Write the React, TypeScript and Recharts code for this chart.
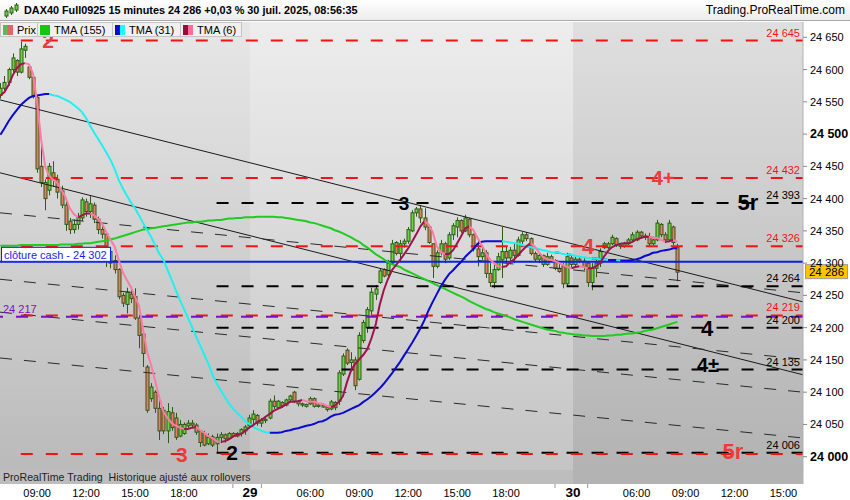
import React from 'react';
import { ComposedChart, Bar, Line, XAxis, YAxis, ReferenceLine, ReferenceArea, ReferenceDot } from 'recharts';

const FONT = '"Liberation Sans", Arial, sans-serif';

// ---- candles (15 min) ----
const OPEN = [
  24560,24571,24580,24600,24614,24596,24630,24604,24588,24557,
  24450,24425,24413,24440,24430,24412,24390,24365,24352,24360,
  24370,24395,24380,24390,24368,24352,24345,24318,24304,24290,
  24250,24236,24252,24248,24215,24190,24139,24090,24100,24075,
  24072,24040,24068,24060,24032,24036,24048,24052,24049,24040,
  24036,24020,24031,24020,24030,24034,24028,24036,24032,24036,
  24040,24048,24058,24064,24052,24056,24060,24086,24076,24084,
  24080,24088,24100,24086,24082,24078,24082,24090,24078,24080,
  24077,24074,24084,24086,24128,24165,24146,24150,24120,24180,
  24200,24226,24252,24270,24290,24282,24300,24332,24315,24330,
  24334,24350,24378,24384,24370,24356,24330,24295,24316,24330,
  24308,24344,24356,24366,24350,24368,24344,24322,24310,24316,
  24284,24270,24290,24305,24318,24308,24320,24312,24334,24344,
  24338,24315,24306,24312,24298,24310,24304,24292,24296,24268,
  24308,24298,24306,24303,24300,24270,24292,24300,24330,24324,
  24330,24338,24328,24326,24330,24336,24336,24348,24342,24340,
  24330,24336,24360,24344,24336,24356,24325,
];
const HIGH = [
  24579,24590,24603,24625,24616,24643,24640,24608,24592,24560,
  24488,24430,24455,24458,24437,24420,24400,24370,24368,24378,
  24402,24400,24404,24394,24372,24360,24350,24322,24312,24292,
  24254,24262,24264,24261,24220,24192,24142,24114,24103,24088,
  24077,24083,24077,24068,24057,24053,24057,24057,24052,24041,
  24040,24036,24034,24036,24038,24036,24038,24038,24038,24044,
  24049,24065,24072,24066,24060,24062,24090,24095,24088,24086,
  24090,24096,24102,24088,24084,24082,24093,24092,24082,24082,
  24080,24088,24086,24134,24160,24168,24162,24155,24193,24212,
  24232,24262,24266,24292,24292,24305,24336,24334,24336,24338,
  24356,24382,24387,24390,24385,24358,24331,24320,24336,24333,
  24348,24362,24371,24368,24375,24370,24346,24336,24328,24320,
  24300,24298,24316,24356,24325,24325,24331,24341,24348,24348,
  24340,24318,24316,24313,24316,24313,24306,24300,24300,24316,
  24313,24310,24310,24308,24302,24300,24305,24323,24333,24333,
  24344,24340,24331,24333,24339,24348,24351,24350,24346,24347,
  24341,24367,24362,24348,24367,24358,24330,
];
const LOW = [
  24555,24565,24575,24595,24590,24594,24618,24585,24555,24440,
  24418,24382,24405,24418,24400,24385,24350,24345,24346,24352,
  24365,24372,24370,24362,24345,24338,24294,24292,24284,24244,
  24232,24222,24238,24212,24168,24139,24068,24085,24068,24026,
  24035,24021,24040,24026,24030,24034,24044,24046,24034,24015,
  24016,24018,24015,24007,24021,24022,24026,24030,24030,24031,
  24034,24044,24050,24048,24046,24052,24058,24074,24074,24076,
  24078,24086,24083,24078,24077,24076,24080,24076,24076,24076,
  24070,24072,24072,24080,24125,24142,24132,24103,24118,24176,
  24192,24220,24243,24268,24278,24280,24298,24312,24302,24324,
  24330,24348,24372,24362,24351,24330,24277,24292,24312,24300,
  24305,24336,24340,24347,24348,24340,24318,24295,24305,24277,
  24263,24261,24288,24277,24300,24298,24300,24310,24326,24334,
  24312,24302,24300,24294,24296,24302,24289,24285,24261,24264,
  24294,24294,24300,24289,24263,24258,24278,24294,24322,24322,
  24328,24325,24322,24324,24328,24333,24334,24340,24336,24325,
  24328,24334,24340,24331,24334,24328,24272,
];
const CLOSE = [
  24571,24580,24600,24618,24596,24632,24636,24588,24558,24446,
  24425,24400,24450,24430,24410,24390,24360,24352,24360,24372,
  24398,24380,24392,24368,24352,24345,24318,24300,24290,24248,
  24238,24255,24245,24215,24188,24160,24072,24108,24075,24040,
  24040,24070,24045,24030,24050,24050,24052,24049,24038,24022,
  24018,24030,24018,24030,24034,24028,24036,24032,24036,24042,
  24046,24060,24066,24052,24056,24058,24086,24078,24086,24079,
  24088,24094,24086,24082,24080,24081,24090,24078,24080,24077,
  24073,24085,24076,24130,24156,24145,24150,24110,24188,24208,
  24228,24255,24260,24288,24280,24300,24330,24315,24330,24334,
  24352,24378,24384,24370,24356,24332,24295,24316,24330,24306,
  24344,24358,24366,24350,24370,24344,24322,24310,24316,24284,
  24270,24290,24310,24318,24308,24320,24312,24336,24344,24338,
  24315,24306,24312,24298,24310,24304,24292,24287,24268,24310,
  24298,24306,24303,24294,24270,24292,24300,24318,24324,24330,
  24340,24328,24326,24330,24336,24344,24348,24342,24340,24330,
  24336,24362,24344,24336,24362,24332,24286,
];

// ---- moving averages ----
const TMA6 = [
  24560,24565,24576,24591,24602,24608,24610,24608,24594,24548,
  24491,24449,24435,24429,24424,24413,24402,24385,24376,24371,
  24374,24377,24377,24374,24368,24360,24348,24336,24326,24305,
  24286,24274,24263,24248,24234,24196,24162,24141,24116,24091,
  24069,24060,24052,24048,24045,24043,24043,24045,24046,24041,
  24037,24032,24029,24024,24023,24024,24027,24031,24034,24035,
  24040,24045,24049,24054,24057,24062,24066,24071,24074,24077,
  24081,24085,24085,24086,24088,24086,24085,24085,24083,24082,
  24079,24077,24079,24085,24094,24116,24134,24144,24151,24158,
  24167,24184,24204,24235,24258,24275,24289,24297,24305,24314,
  24323,24334,24345,24357,24365,24360,24348,24326,24317,24314,
  24314,24320,24331,24342,24354,24357,24351,24339,24328,24316,
  24306,24300,24295,24294,24295,24302,24306,24313,24320,24326,
  24331,24326,24317,24310,24306,24305,24303,24300,24297,24294,
  24292,24294,24295,24294,24292,24292,24295,24300,24310,24319,
  24325,24328,24330,24331,24331,24333,24337,24339,24341,24341,
  24339,24339,24336,24333,24334,24336,24333,
];
const TMA31 = [
  24499,24509,24520,24529,24537,24545,24551,24556,24559,24560,
  24561,24562,24562,24560,24559,24556,24553,24550,24545,24540,
  24534,24525,24513,24502,24492,24482,24471,24460,24446,24429,
  24416,24405,24394,24385,24374,24362,24351,24340,24327,24314,
  24305,24289,24274,24258,24243,24229,24215,24201,24186,24172,
  24158,24144,24127,24114,24103,24093,24083,24075,24068,24062,
  24055,24051,24046,24043,24040,24038,24037,24037,24037,24038,
  24040,24041,24043,24044,24046,24048,24049,24051,24054,24055,
  24058,24062,24065,24066,24068,24071,24074,24077,24080,24085,
  24089,24094,24100,24106,24113,24121,24129,24138,24147,24157,
  24167,24177,24188,24199,24212,24227,24240,24252,24264,24274,
  24283,24289,24296,24302,24310,24316,24322,24330,24333,24334,
  24334,24334,24334,24334,24333,24332,24331,24330,24328,24326,
  24325,24323,24322,24320,24319,24317,24316,24316,24314,24313,
  24313,24311,24310,24309,24308,24307,24307,24306,24306,24305,
  24305,24305,24304,24304,24304,24305,24306,24308,24311,24313,
  24316,24317,24319,24320,24321,24323,24323,
];
const TMA155 = [
  24327,24327,24327,24327,24327,24328,24328,24328,24328,24328,
  24328,24328,24328,24328,24328,24329,24329,24329,24329,24330,
  24330,24331,24331,24332,24333,24334,24335,24337,24338,24340,
  24342,24344,24346,24348,24350,24352,24353,24354,24355,24356,
  24357,24358,24359,24360,24361,24362,24363,24363,24364,24364,
  24365,24366,24366,24367,24367,24368,24369,24369,24370,24370,
  24371,24371,24371,24372,24372,24372,24372,24372,24371,24371,
  24370,24369,24368,24367,24366,24365,24363,24362,24360,24358,
  24356,24354,24351,24349,24346,24343,24340,24336,24333,24328,
  24324,24319,24314,24310,24306,24302,24298,24296,24294,24290,
  24287,24284,24281,24278,24275,24272,24269,24266,24263,24260,
  24257,24254,24251,24248,24245,24241,24238,24235,24232,24229,
  24227,24224,24222,24220,24218,24216,24213,24211,24209,24207,
  24205,24203,24201,24199,24197,24196,24195,24193,24192,24191,
  24190,24189,24189,24188,24188,24187,24187,24187,24187,24188,
  24188,24189,24189,24190,24191,24191,24192,24193,24195,24196,
  24197,24199,24201,24203,24205,24207,24209,
];

// ---- axes ----
const X_MIN = -0.1;
const X_MAX = 196.8;
const Y_MIN = 23957.7;
const Y_MAX = 24673.7;
const X_TICKS = [9, 21, 33, 45, 57, 61.2, 64, 76, 88, 100, 112, 124, 136, 140.4, 144, 156, 168, 180, 192];
const X_LABELS = ['09:00', '12:00', '15:00', '18:00', '', '29', '', '06:00', '09:00', '12:00', '15:00', '18:00', '', '30', '', '06:00', '09:00', '12:00', '15:00'];
const Y_TICKS = [24000, 24050, 24100, 24150, 24200, 24250, 24300, 24350, 24400, 24450, 24500, 24550, 24600, 24650];
const DAY_BOUNDS = [-0.1, 61.2, 140.4, 196.8];

// ---- levels & drawings ----
const LEVELS = [
  { v: 24645, kind: 'red', label: '24 645' },
  { v: 24432, kind: 'red', label: '24 432' },
  { v: 24393, kind: 'black', label: '24 393' },
  { v: 24326, kind: 'red', label: '24 326' },
  { v: 24264, kind: 'black', label: '24 264' },
  { v: 24219, kind: 'red', label: '24 219' },
  { v: 24200, kind: 'black', label: '24 200' },
  { v: 24135, kind: 'black', label: '24 135' },
  { v: 24006, kind: 'black', label: '24 006' },
  { v: 24004, kind: 'red', label: '' },
];
const LEVEL_START: Record<string, number> = { red: 5, black: 53 };
const CASH_CLOSE = 24302;
const PURPLE_LEVEL = 24217;
const LAST_PRICE = 24286;
const TRENDS = [
  { a: 24553, b: 24240, dashed: false },
  { a: 24440, b: 24127, dashed: false },
  { a: 24378, b: 24254, dashed: true },
  { a: 24275, b: 24151, dashed: true },
  { a: 24224, b: 24100, dashed: true },
  { a: 24153, b: 24029, dashed: true },
];
const WAVE_MARKS = [
  { x: 11.7, v: 24645, t: '2', c: 'red', s: 21 },
  { x: 44.5, v: 24004, t: '3', c: 'red', s: 21 },
  { x: 56.8, v: 24006, t: '2', c: 'black', s: 21 },
  { x: 99, v: 24393, t: '3', c: 'black', s: 19 },
  { x: 144.1, v: 24326, t: '4', c: 'red', s: 22 },
  { x: 162.5, v: 24432, t: '4+', c: 'red', s: 20 },
  { x: 183.3, v: 24395, t: '5r', c: 'black', s: 22 },
  { x: 173.3, v: 24200, t: '4', c: 'black', s: 22 },
  { x: 173.5, v: 24142, t: '4±', c: 'black', s: 20 },
  { x: 179.6, v: 24009, t: '5r', c: 'red', s: 22 },
];

const C_RED = '#f21414';
const C_MARK_RED = '#ec3b3b';
const C_WICK = '#2c5a18';
const C_UP = '#6fd23e';
const C_DN = '#ea7c62';

const splitSlope = (arr: number[]) => {
  const up: (number | null)[] = arr.map(() => null);
  const dn: (number | null)[] = arr.map(() => null);
  for (let i = 0; i < arr.length - 1; i++) {
    if (arr[i + 1] >= arr[i]) { up[i] = arr[i]; up[i + 1] = arr[i + 1]; }
    else { dn[i] = arr[i]; dn[i + 1] = arr[i + 1]; }
  }
  return { up, dn };
};
const s6 = splitSlope(TMA6);
const s31 = splitSlope(TMA31);

const DATA = CLOSE.map((c, i) => ({
  i, o: OPEN[i], h: HIGH[i], l: LOW[i], c,
  t6u: s6.up[i], t6d: s6.dn[i], t31u: s31.up[i], t31d: s31.dn[i], t155: TMA155[i],
}));

const fmt = (v: number) => `${Math.floor(v / 1000)} ${String(Math.round(v % 1000)).padStart(3, '0')}`;

const Candle = (p: any) => {
  const { x, y, width, height, payload } = p;
  if (!payload || x == null || y == null) return null;
  const { o, h, l, c } = payload;
  const top = Math.min(y, y + height);
  const hh = Math.abs(height);
  const k = h === l ? 0 : hh / (h - l);
  const yO = top + (h - o) * k;
  const yC = top + (h - c) * k;
  const cx = Math.round(x + width / 2) + 0.5;
  const up = c >= o;
  const bTop = Math.min(yO, yC);
  const bH = Math.max(1, Math.abs(yC - yO));
  return (
    <g>
      <line x1={cx} x2={cx} y1={top} y2={top + hh} stroke={C_WICK} strokeWidth={1} />
      <rect x={cx - 1.5} y={bTop} width={3} height={bH} fill={up ? C_UP : C_DN} stroke={C_WICK} strokeWidth={1} />
    </g>
  );
};

const YTick = (p: any) => {
  const v = p.payload.value;
  const bold = v % 500 === 0;
  return (
    <text x={p.x} y={p.y} dy={4} textAnchor="start" fontSize={bold ? 12.5 : 11} fontWeight={bold ? 700 : 400} fill="#000" fontFamily={FONT}>
      {fmt(v)}
    </text>
  );
};

const XTick = (p: any) => {
  const k = X_TICKS.indexOf(p.payload.value);
  const lab = X_LABELS[k];
  if (!lab) return <line x1={p.x} x2={p.x} y1={p.y} y2={p.y + 4} stroke="#999" />;
  const day = lab.length === 2;
  return (
    <text x={p.x} y={p.y + 13} textAnchor="middle" fontSize={day ? 13.5 : 11} fontWeight={day ? 700 : 400} fill="#000" fontFamily={FONT}>
      {lab}
    </text>
  );
};

const LegendBox = ({ left, width, colors, text }: any) => (
  <div style={{ position: 'absolute', left, top: 22, width, height: 15, background: '#f0f0f0', border: '1px solid #c4c4c4', boxSizing: 'border-box' }}>
    <div style={{ position: 'absolute', left: 2, top: 2, display: 'flex' }}>
      {colors.map((c: string, j: number) => (
        <div key={j} style={{ width: colors.length === 1 ? 10 : 5, height: 10, background: c }} />
      ))}
    </div>
    <div style={{ position: 'absolute', left: 16, top: 0, fontSize: 11, lineHeight: '14px', color: '#000', fontFamily: FONT, whiteSpace: 'nowrap' }}>{text}</div>
  </div>
);

export default function App() {
  const grads = [['#e7e7e7', '#b9b9b9'], ['#ededed', '#c3c3c3'], ['#dfdfdf', '#b1b1b1']];
  return (
    <div style={{ position: 'absolute', left: 0, top: 0, width: 850, height: 500, background: '#fff', overflow: 'hidden', fontFamily: FONT }}>
      {/* header */}
      <div style={{ position: 'absolute', left: 0, top: 0, width: 850, height: 21, background: 'linear-gradient(#ffffff, #ececec)', borderBottom: '1px solid #a8a8a8', boxSizing: 'border-box' }}>
        <svg width={16} height={18} style={{ position: 'absolute', left: 3, top: 2 }}>
          <line x1={3.5} x2={3.5} y1={7} y2={16} stroke={C_WICK} />
          <rect x={2} y={9} width={3} height={5} fill={C_UP} stroke={C_WICK} />
          <line x1={8.5} x2={8.5} y1={4} y2={13} stroke={C_WICK} />
          <rect x={7} y={6} width={3} height={5} fill={C_UP} stroke={C_WICK} />
          <line x1={13.5} x2={13.5} y1={1} y2={10} stroke={C_WICK} />
          <rect x={12} y={3} width={3} height={5} fill={C_UP} stroke={C_WICK} />
        </svg>
        <div style={{ position: 'absolute', left: 24, top: 4, fontSize: 10.85, fontWeight: 700, color: '#000', whiteSpace: 'nowrap' }}>
          DAX40 Full0925 15 minutes 24 286 +0,03 % 30 juil. 2025, 08:56:35
        </div>
        <div style={{ position: 'absolute', right: 5, top: 3, fontSize: 12, color: '#000', whiteSpace: 'nowrap' }}>Trading.ProRealTime.com</div>
      </div>

      <div style={{ position: 'absolute', left: 0, top: 21 }}>
        <ComposedChart width={850} height={479} data={DATA} margin={{ top: 1, right: 0, bottom: 0, left: 0 }}>
          <defs>
            {grads.map((g, k) => (
              <linearGradient key={k} id={`day${k}`} x1="0" y1="0" x2="0" y2="1">
                <stop offset="0%" stopColor={g[0]} />
                <stop offset="100%" stopColor={g[1]} />
              </linearGradient>
            ))}
          </defs>
          <XAxis type="number" dataKey="i" domain={[X_MIN, X_MAX]} allowDataOverflow ticks={X_TICKS} interval={0}
            tick={<XTick />} tickLine={false} axisLine={false} height={16} tickSize={0} tickMargin={0} />
          <YAxis orientation="right" domain={[Y_MIN, Y_MAX]} allowDataOverflow ticks={Y_TICKS} interval={0} width={47}
            tick={<YTick />} tickSize={4} tickMargin={3} tickLine={{ stroke: '#888' }} axisLine={{ stroke: '#b0b0b0' }} />

          {DAY_BOUNDS.slice(0, -1).map((b, k) => (
            <ReferenceArea key={`d${k}`} x1={b} x2={DAY_BOUNDS[k + 1]} y1={Y_MIN} y2={Y_MAX} fill={`url(#day${k})`} fillOpacity={1} stroke="none" ifOverflow="visible" />
          ))}

          {TRENDS.map((t, k) => (
            <ReferenceLine key={`t${k}`} segment={[{ x: X_MIN, y: t.a }, { x: X_MAX, y: t.b }]} stroke={t.dashed ? '#2a2a2a' : '#1a1a1a'}
              strokeWidth={1} strokeDasharray={t.dashed ? '12 12' : undefined} ifOverflow="visible" />
          ))}

          <Bar dataKey={(d: any) => [d.l, d.h]} barSize={4} shape={<Candle />} isAnimationActive={false} />

          {LEVELS.map((lv, k) => (
            <ReferenceLine key={`l${k}`} segment={[{ x: LEVEL_START[lv.kind], y: lv.v }, { x: X_MAX, y: lv.v }]}
              stroke={lv.kind === 'red' ? C_RED : '#000'} strokeWidth={2} strokeDasharray="12 13" ifOverflow="visible" />
          ))}
          <ReferenceLine y={PURPLE_LEVEL} stroke="#7a10c8" strokeWidth={2} strokeDasharray="12 13" ifOverflow="visible" />
          <ReferenceLine y={CASH_CLOSE} stroke="#0a1ef0" strokeWidth={2} ifOverflow="visible" />

          <Line dataKey="t155" stroke="#1fcc1f" strokeWidth={2} dot={false} activeDot={false} isAnimationActive={false} connectNulls={false} />
          <Line dataKey="t31u" stroke="#0a0ad2" strokeWidth={2} dot={false} activeDot={false} isAnimationActive={false} connectNulls={false} />
          <Line dataKey="t31d" stroke="#1ff0f0" strokeWidth={2} dot={false} activeDot={false} isAnimationActive={false} connectNulls={false} />
          <Line dataKey="t6u" stroke="#a0124c" strokeWidth={2} dot={false} activeDot={false} isAnimationActive={false} connectNulls={false} />
          <Line dataKey="t6d" stroke="#ff7aa4" strokeWidth={2} dot={false} activeDot={false} isAnimationActive={false} connectNulls={false} />

          {LEVELS.filter((lv) => lv.label).map((lv, k) => (
            <ReferenceDot key={`ll${k}`} x={X_MAX} y={lv.v} r={0} ifOverflow="visible"
              shape={(p: any) => (
                <text x={p.cx - 3} y={p.cy - 4} textAnchor="end" fontSize={11} fill={lv.kind === 'red' ? C_RED : '#000'} fontFamily={FONT}>{lv.label}</text>
              )} />
          ))}
          <ReferenceDot x={X_MIN} y={PURPLE_LEVEL} r={0} ifOverflow="visible"
            shape={(p: any) => (
              <text x={p.cx + 3} y={p.cy - 4} fontSize={11} fill="#7a10c8" fontFamily={FONT}>{fmt(PURPLE_LEVEL)}</text>
            )} />
          <ReferenceDot x={X_MIN} y={CASH_CLOSE} r={0} ifOverflow="visible"
            shape={(p: any) => (
              <g>
                <rect x={p.cx + 1.5} y={p.cy - 14.5} width={109} height={14} fill="#fff" stroke="#0a1ef0" strokeWidth={1} />
                <text x={p.cx + 4} y={p.cy - 3} fontSize={11} fill="#1a1aff" fontFamily={FONT}>{`clôture cash -  ${fmt(CASH_CLOSE)}`}</text>
              </g>
            )} />
          {WAVE_MARKS.map((m, k) => (
            <ReferenceDot key={`w${k}`} x={m.x} y={m.v} r={0} ifOverflow="visible"
              shape={(p: any) => (
                <text x={p.cx} y={p.cy} dy="0.36em" textAnchor="middle" fontSize={m.s} fontWeight={700}
                  fill={m.c === 'red' ? C_MARK_RED : '#000'} fontFamily={FONT}>{m.t}</text>
              )} />
          ))}
          <ReferenceDot x={X_MAX} y={LAST_PRICE} r={0} ifOverflow="visible"
            shape={(p: any) => (
              <g>
                <rect x={p.cx + 2.5} y={p.cy - 7.5} width={42} height={14} fill="#ffc400" stroke="#9a9a9a" strokeWidth={1} />
                <text x={p.cx + 23.5} y={p.cy + 4} textAnchor="middle" fontSize={11.5} fill="#000" fontFamily={FONT}>{fmt(LAST_PRICE)}</text>
              </g>
            )} />
        </ComposedChart>
      </div>

      {/* legend */}
      <LegendBox left={0} width={38} colors={['#5cb85c', '#e06666']} text="Prix" />
      <LegendBox left={37} width={76} colors={['#12c812']} text="TMA (155)" />
      <LegendBox left={112} width={69} colors={['#0a0ad2', '#1ff8f8']} text="TMA (31)" />
      <LegendBox left={180} width={62} colors={['#9a0a3c', '#ff6a9a']} text="TMA (6)" />

      {/* bottom info strip */}
      <div style={{ position: 'absolute', left: 0, top: 470, width: 573, height: 14, background: '#bdbdbd' }} />
      <div style={{ position: 'absolute', left: 573, top: 470, width: 230, height: 14, background: '#b3b3b3' }} />
      <div style={{ position: 'absolute', left: 3, top: 470, fontSize: 10.6, lineHeight: '14px', color: '#1e1e1e', whiteSpace: 'nowrap' }}>
        ProRealTime Trading&nbsp; Historique ajusté aux rollovers
      </div>
    </div>
  );
}
